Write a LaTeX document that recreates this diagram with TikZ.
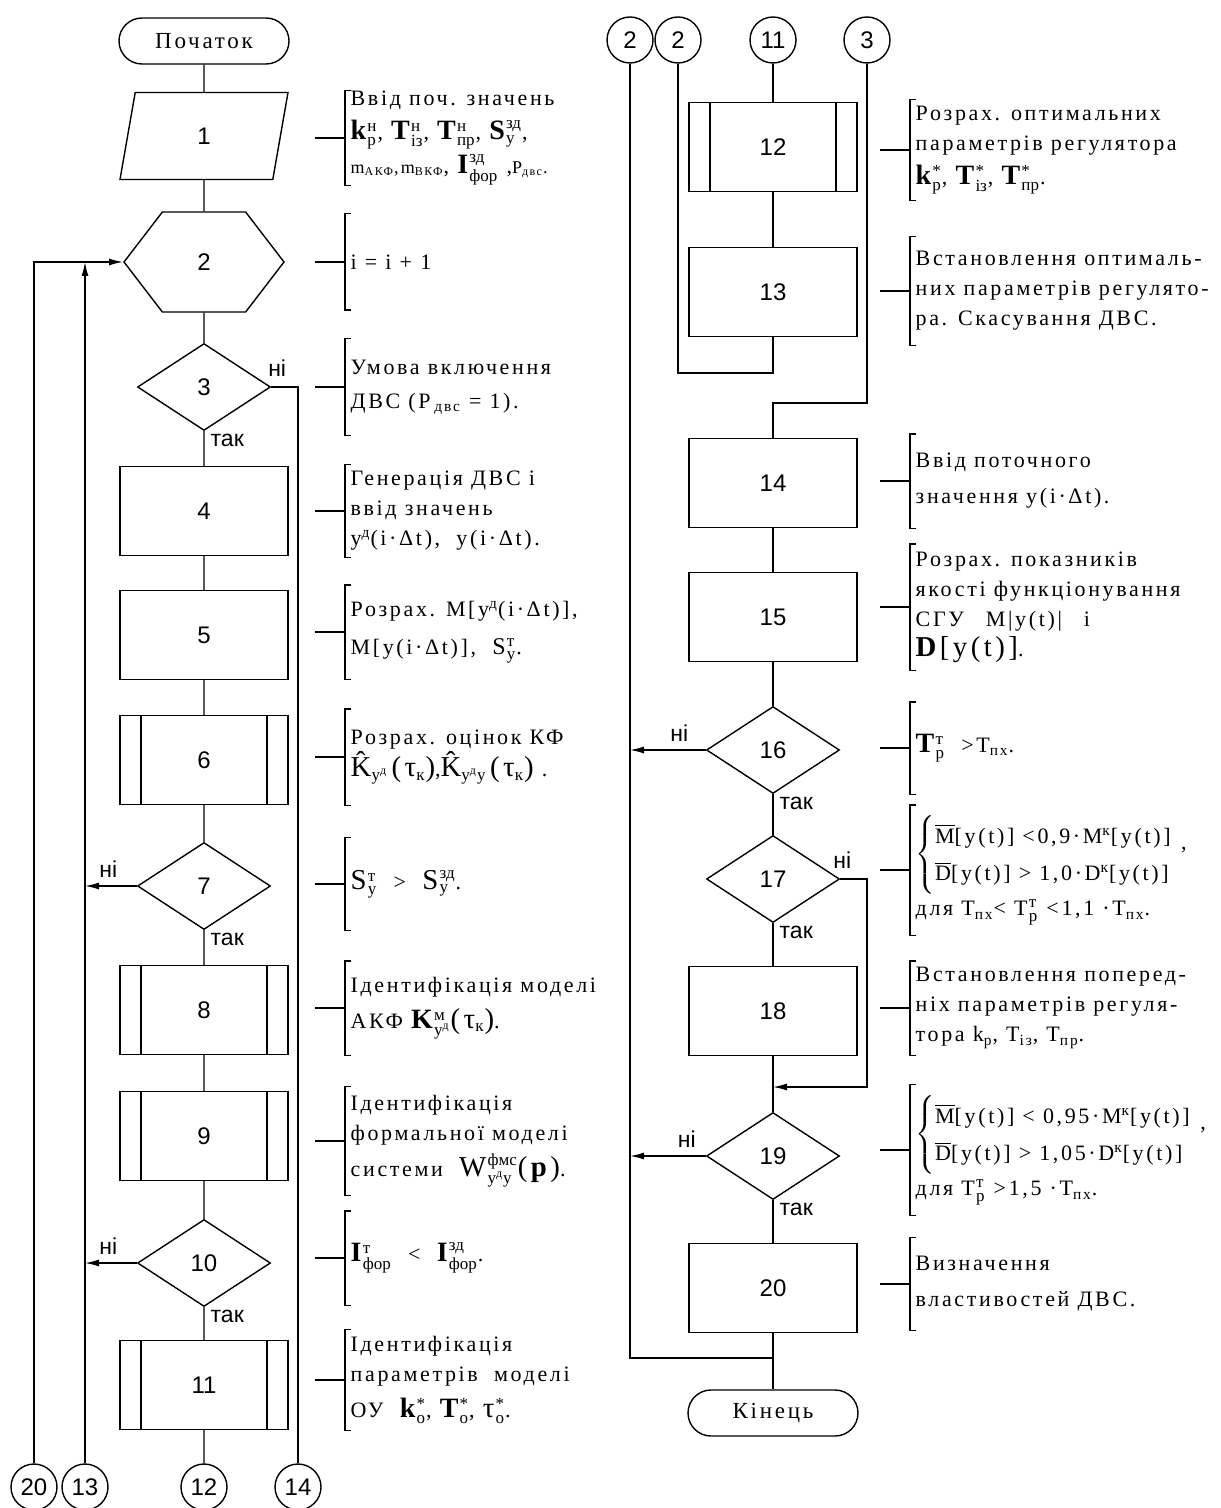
\documentclass[tikz,border=0pt]{standalone}
\usepackage{amsmath}
\usepackage{fontspec}
\setmainfont{Liberation Serif}
\newfontfamily\cmtfont[LetterSpace=12]{Liberation Serif}
\newfontfamily\numfont{Liberation Sans}
\usetikzlibrary{arrows.meta,shapes.geometric,shapes.symbols}

\newcommand{\bv}[1]{{\rmfamily\bfseries\fontsize{14}{14}\selectfont #1}}
\newcommand{\scr}[1]{\text{\rmfamily\fontsize{8.5}{9}\selectfont #1}}
\newcommand{\supsub}[2]{\kern0.6pt\ensuremath{^{\scr{#1}}_{\scr{#2}}}}
\newcommand{\subonly}[1]{\ensuremath{_{\scr{#1}}}}
\newcommand{\ovl}[1]{\ensuremath{\overline{\text{#1}}}}

\begin{document}
\begin{tikzpicture}[
    x=0.5pt, y=-0.5pt, line width=0.7pt,
    term/.style={draw, rounded corners=11.5pt, minimum width=85pt, minimum height=23pt,
      font=\fontsize{11.5}{13}\cmtfont},
    io/.style={draw, trapezium, trapezium left angle=63, trapezium right angle=117,
      trapezium stretches body, minimum width=84pt, minimum height=43.5pt,
      font=\fontsize{12}{14}\numfont},
    prep/.style={draw, signal, signal to=east and west, signal pointer angle=105,
      minimum width=80pt, minimum height=50pt, font=\fontsize{12}{14}\numfont},
    box/.style={draw, minimum width=84pt, minimum height=44.5pt, font=\fontsize{12}{14}\numfont},
    sub/.style={box, path picture={
        \draw ([xshift=10.5pt]path picture bounding box.north west) -- ([xshift=10.5pt]path picture bounding box.south west)
              ([xshift=-10.5pt]path picture bounding box.north east) -- ([xshift=-10.5pt]path picture bounding box.south east);}},
    cond/.style={draw, diamond, aspect=1.53, minimum width=66.5pt, minimum height=43.5pt,
      inner sep=0pt, font=\fontsize{12}{14}\numfont},
    conn/.style={draw, circle, minimum size=23pt, inner sep=0pt, font=\fontsize{12}{14}\numfont},
    lbl/.style={font=\fontsize{11.5}{12}\numfont, inner sep=1pt},
    arr/.style={-{Latex[length=7pt,width=3.5pt]}},
    note/.style={anchor=west, align=left, inner xsep=2.5pt, inner ysep=0pt,
      font=\fontsize{11}{15}\cmtfont}
  ]
  \useasboundingbox (0,0) rectangle (1220,1508);

  % left column
  \node[term] (start) at (204,41) {Початок};
  \node[io] (b1) at (204,136) {1};
  \node[prep] (b2) at (204,262) {2};
  \node[cond] (b3) at (204,387) {3};
  \node[box] (b4) at (204,511) {4};
  \node[box] (b5) at (204,635) {5};
  \node[sub] (b6) at (204,760) {6};
  \node[cond] (b7) at (204,886) {7};
  \node[sub] (b8) at (204,1010) {8};
  \node[sub] (b9) at (204,1136) {9};
  \node[cond] (b10) at (204,1263) {10};
  \node[sub] (b11) at (204,1385) {11};

  \node[conn] (k20) at (34,1487) {20};
  \node[conn] (k13) at (85,1487) {13};
  \node[conn] (k12) at (204,1487) {12};
  \node[conn] (k14) at (298,1487) {14};

  % right column
  \node[conn] (k2a) at (630,40) {2};
  \node[conn] (k2b) at (678,40) {2};
  \node[conn] (k11) at (773,40) {11};
  \node[conn] (k3) at (867,40) {3};

  \node[sub] (b12) at (773,147) {12};
  \node[box] (b13) at (773,292) {13};
  \node[box] (b14) at (773,483) {14};
  \node[box] (b15) at (773,617) {15};
  \node[cond] (b16) at (773,750) {16};
  \node[cond] (b17) at (773,879) {17};
  \node[box] (b18) at (773,1011) {18};
  \node[cond] (b19) at (773,1156) {19};
  \node[box] (b20) at (773,1288) {20};
  \node[term] (fin) at (773,1413) {Кінець};

  \coordinate (j13) at (773,373);
  \coordinate (j3) at (773,403);
  \coordinate (j17) at (773,1087);
  \coordinate (j20) at (773,1358);

  % flow lines
  \draw (start) -- (b1) -- (b2) -- (b3) -- (b4) -- (b5) -- (b6) -- (b7) -- (b8) -- (b9)
    -- (b10) -- (b11) -- (k12);
  \draw (b3.east) node[lbl, anchor=south, xshift=3pt, yshift=4pt] (n3) {ні} -| (k14);
  \draw[arr] (k20) |- (b2);
  \draw[arr] (k13) -- (k13 |- b2.west);
  \draw[arr] (b7.west) -- node[lbl, above=3pt, pos=0.55] (n7) {ні} (b7.west -| k13);
  \draw[arr] (b10.west) -- node[lbl, above=3pt, pos=0.55] (n10) {ні} (b10.west -| k13);
  \node[lbl, anchor=north west] (y3) at ([xshift=2pt]b3.south) {так};
  \node[lbl, anchor=north west] (y7) at ([xshift=2pt]b7.south) {так};
  \node[lbl, anchor=north west] (y10) at ([xshift=2pt]b10.south) {так};

  \draw (k11) -- (b12) -- (b13) -- (j13) -| (k2b);
  \draw (k3) |- (j3) -- (b14) -- (b15) -- (b16) -- (b17) -- (b18) -- (b19) -- (b20) -- (fin);
  \draw (k2a) |- (j20);
  \draw[arr] (b16.west) -- node[lbl, above=3pt, pos=0.35] (n16) {ні} (b16.west -| k2a);
  \draw[arr] (b19.west) -- node[lbl, above=3pt, pos=0.25] (n19) {ні} (b19.west -| k2a);
  \draw[arr] (b17.east) node[lbl, anchor=south, xshift=1pt, yshift=4pt] (n17) {ні} -- (b17.east -| k3) |- (j17);
  \node[lbl, anchor=north west] (y16) at ([xshift=2pt]b16.south) {так};
  \node[lbl, anchor=north west] (y17) at ([xshift=2pt]b17.south) {так};
  \node[lbl, anchor=north west] (y19) at ([xshift=2pt]b19.south) {так};

  % comments
  \node[note, minimum height=45pt] (c1) at (345,138) {Ввід поч. значень\\[2pt]
    \bv{k}\supsub{н}{р}, \bv{T}\supsub{н}{із}, \bv{T}\supsub{н}{пр}, \bv{S}\supsub{зд}{у},\\[2pt]
    {\small m\textsubscript{АКФ},m\textsubscript{ВКФ}}, \bv{I}\supsub{зд}{фор} ,{\small P\textsubscript{двс}.}};
  \node[note, minimum height=47.5pt] (c2) at (345,262) {i = i + 1};
  \node[note, minimum height=47.5pt] (c3) at (345,387) {Умова включення\\[2pt] ДВС (P\,\textsubscript{двс} = 1).};
  \node[note, minimum height=46pt] (c4) at (345,511) {Генерація ДВС і\\ ввід значень\\
    y\textsuperscript{д}(i·Δt),\ \ y(i·Δt).};
  \node[note, minimum height=46.5pt] (c5) at (345,632) {Розрах. M[y\textsuperscript{д}(i·Δt)],\\[4pt]
    M[y(i·Δt)],\ \ {\large S}\supsub{т}{у}.};
  \node[note, minimum height=47.5pt] (c6) at (345,757) {Розрах. оцінок КФ\\
    {\Large\^{K}}\subonly{у\textsuperscript{д}}\,{\Large(τ}\subonly{к}{\Large)},{\Large\^{K}}\subonly{у\textsuperscript{д}у}\,{\Large(τ}\subonly{к}{\Large)} .};
  \node[note, minimum height=46pt] (c7) at (345,884) {{\Large S}\supsub{т}{у}\ \ >\ \ {\Large S}\supsub{зд}{у}.};
  \node[note, minimum height=46.5pt] (c8) at (345,1008) {Ідентифікація моделі\\[3pt]
    АКФ \bv{K}\supsub{м}{у\textsuperscript{д}}{\Large(τ}\subonly{к}{\Large)}.};
  \node[note, minimum height=54pt] (c9) at (345,1141) {Ідентифікація\\ формальної моделі\\[3pt]
    системи\ \ {\Large W}\supsub{фмс}{у\textsuperscript{д}у}{\Large(\textbf{p})}.};
  \node[note, minimum height=46.5pt] (c10) at (345,1258) {\bv{I}\supsub{т}{фор}\ \ <\ \ \bv{I}\supsub{зд}{фор}.};
  \node[note, minimum height=50pt] (c11) at (345,1380) {Ідентифікація\\ параметрів\ \ моделі\\[3pt]
    ОУ\ \ \bv{k}\supsub{*}{о}, \bv{T}\supsub{*}{о}, {\Large τ}\supsub{*}{о}.};

  \node[note, minimum height=50pt] (c12) at (910,150) {Розрах. оптимальних\\ параметрів регулятора\\[2pt]
    \bv{k}\supsub{*}{р}, \bv{T}\supsub{*}{із}, \bv{T}\supsub{*}{пр}.};
  \node[note, minimum height=54pt] (c13) at (910,291) {Встановлення оптималь-\\
    них параметрів регулято-\\ ра. Скасування ДВС.};
  \node[note, minimum height=46.5pt] (c14) at (910,481) {Ввід поточного\\[3pt] значення y(i·Δt).};
  \node[note, minimum height=62.5pt] (c15) at (910,607) {Розрах. показників\\ якості функціонування\\
    СГУ\quad M|y(t)|\quad і\\ {\Large\textbf{D}[y(t)]}.};
  \node[note, minimum height=45.5pt] (c16) at (910,748) {\bv{T}\supsub{т}{р}\ \ >T\textsubscript{пх}.};
  \node[note, minimum height=64.5pt] (c17) at (910,870) {\renewcommand{\arraystretch}{1.25}$\left\{\begin{tabular}{@{}l@{}}
      \ovl{M}[y(t)] <0,9·M\textsuperscript{к}[y(t)]\\
      \ovl{D}[y(t)] > 1,0·D\textsuperscript{к}[y(t)]\end{tabular}\right.$\ \raisebox{1ex}{,}\\[2pt]
    для T\textsubscript{пх}< T\supsub{т}{р} <1,1 ·T\textsubscript{пх}.};
  \node[note, minimum height=46.5pt] (c18) at (910,1008) {Встановлення поперед-\\
    ніх параметрів регуля-\\ тора k\textsubscript{р}, T\textsubscript{із}, T\textsubscript{пр}.};
  \node[note, minimum height=65pt] (c19) at (910,1150) {\renewcommand{\arraystretch}{1.25}$\left\{\begin{tabular}{@{}l@{}}
      \ovl{M}[y(t)] < 0,95·M\textsuperscript{к}[y(t)]\\
      \ovl{D}[y(t)] > 1,05·D\textsuperscript{к}[y(t)]\end{tabular}\right.$\ \raisebox{1ex}{,}\\[2pt]
    для T\supsub{т}{р} >1,5 ·T\textsubscript{пх}.};
  \node[note, minimum height=46pt] (c20) at (910,1284) {Визначення\\[3pt] властивостей ДВС.};

  \foreach \i in {1,...,20}
    \draw ([xshift=3pt]c\i.north west) -- (c\i.north west) -- (c\i.south west) -- ([xshift=3pt]c\i.south west)
          (c\i.west) -- ++(-15pt,0);
\end{tikzpicture}
\end{document}
